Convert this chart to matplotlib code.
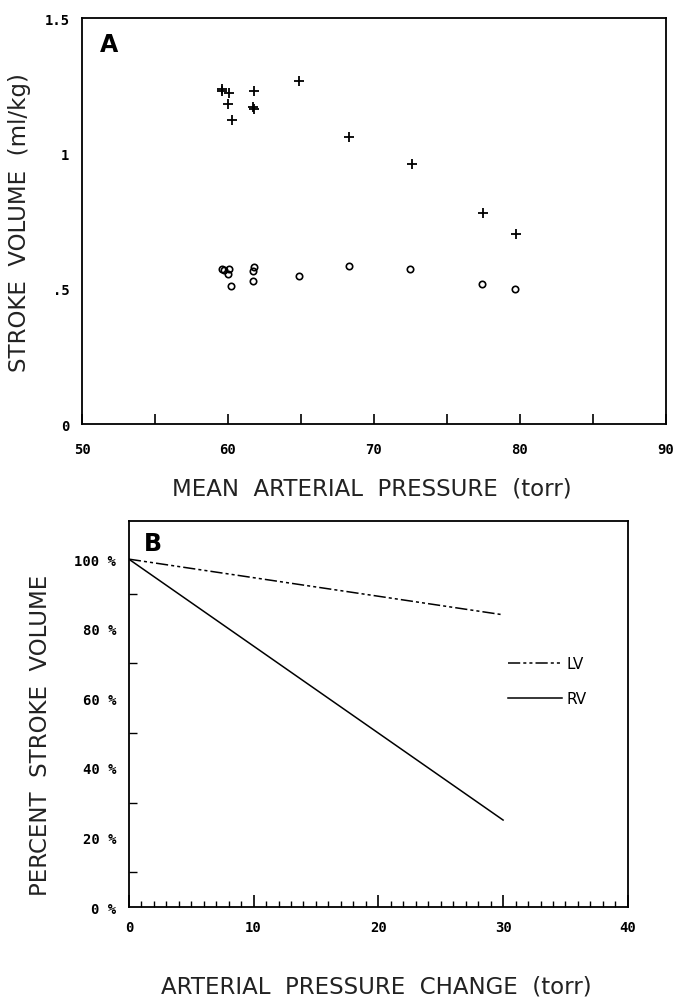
import numpy as np
import matplotlib
matplotlib.use("Agg")
from matplotlib import pyplot as plt
from matplotlib.ticker import MultipleLocator, FixedLocator

# Panel A data: stroke volume vs mean arterial pressure
map_rv = [59.6, 59.6, 60.1, 60.0, 60.25, 61.8, 61.7, 61.8, 64.9, 68.3, 72.6, 77.5, 79.75]
sv_rv = [1.237, 1.229, 1.224, 1.182, 1.123, 1.230, 1.172, 1.166, 1.266, 1.061, 0.960, 0.781, 0.704]
map_lv = [59.6, 59.7, 60.1, 60.0, 60.2, 61.8, 61.7, 61.7, 64.9, 68.3, 72.5, 77.4, 79.7]
sv_lv = [0.573, 0.571, 0.575, 0.554, 0.511, 0.580, 0.565, 0.529, 0.547, 0.585, 0.573, 0.517, 0.501]

# Panel B data: percent stroke volume vs pressure change
dp = [0, 30]
pct_lv = [100, 84]
pct_rv = [100, 25]

a_xticks = [50, 60, 70, 80, 90]
a_xlabels = ["50", "60", "70", "80", "90"]
a_yticks = [0, 0.5, 1.0, 1.5]
a_ylabels = ["0", ".5", "1", "1.5"]
b_xticks = [0, 10, 20, 30, 40]
b_xlabels = ["0", "10", "20", "30", "40"]
b_yticks = [0, 20, 40, 60, 80, 100]
b_ylabels = ["0 %", "20 %", "40 %", "60 %", "80 %", "100 %"]

tick_font = dict(family="DejaVu Sans Mono", size=10, weight="bold")
label_font = dict(family="DejaVu Sans", size=16.5, color="#222222")
lv_style = (0, (8, 2, 2, 2, 2, 2))

fig = plt.figure()
fig.set_size_inches(6.78, 10.03)

# ---- Panel A
ax1 = fig.add_axes([0.121, 0.576, 0.861, 0.405])
ax1.plot(map_rv, sv_rv, linestyle="none", marker="+", markersize=6.5, mew=1.3, color="black")
ax1.plot(map_lv, sv_lv, linestyle="none", marker="o", markersize=4.6, mew=1.2,
         mfc="none", mec="black")
ax1.set_xlim(50, 90)
ax1.set_ylim(0, 1.5)
ax1.set_xticks(a_xticks)
ax1.set_xticklabels(a_xlabels, fontdict=tick_font)
ax1.xaxis.set_minor_locator(MultipleLocator(5))
ax1.set_yticks(a_yticks)
ax1.set_yticklabels(a_ylabels, fontdict=tick_font)
ax1.tick_params(axis="x", which="both", direction="in", length=7, width=1.2, pad=13)
ax1.tick_params(axis="y", length=0, pad=9)
ax1.set_xlabel("MEAN  ARTERIAL  PRESSURE  (torr)", **label_font)
ax1.set_ylabel("STROKE  VOLUME  (ml/kg)", **label_font)
ax1.xaxis.set_label_coords(0.497, -0.128)
ax1.yaxis.set_label_coords(-0.087, 0.5)
ax1.text(1.2 / 40, 0.965, "A", transform=ax1.transAxes, ha="left", va="top",
         fontsize=17, fontweight="bold", family="DejaVu Sans")
for s in ax1.spines.values():
    s.set_linewidth(1.3)

# ---- Panel B
ax2 = fig.add_axes([0.190, 0.0947, 0.736, 0.385])
ax2.plot(dp, pct_lv, color="black", linewidth=1.1, linestyle=lv_style)
ax2.plot(dp, pct_rv, color="black", linewidth=1.1)
ax2.set_xlim(0, 40)
ax2.set_ylim(0, 111)
ax2.set_xticks(b_xticks)
ax2.set_xticklabels(b_xlabels, fontdict=tick_font)
ax2.xaxis.set_minor_locator(MultipleLocator(1))
ax2.set_yticks(b_yticks)
ax2.set_yticklabels(b_ylabels, fontdict=tick_font)
ax2.yaxis.set_minor_locator(FixedLocator([10, 30, 50, 70, 90]))
ax2.tick_params(axis="x", which="major", direction="in", length=9, width=1.2, pad=9)
ax2.tick_params(axis="x", which="minor", direction="in", length=4, width=1.0)
ax2.tick_params(axis="y", which="major", length=0, pad=9)
ax2.tick_params(axis="y", which="minor", direction="in", length=6, width=1.0)
ax2.set_xlabel("ARTERIAL  PRESSURE  CHANGE  (torr)", **label_font)
ax2.set_ylabel("PERCENT  STROKE  VOLUME", **label_font)
ax2.xaxis.set_label_coords(0.495, -0.176)
ax2.yaxis.set_label_coords(-0.154, 0.448)
ax2.text(1.2 / 40, 0.975, "B", transform=ax2.transAxes, ha="left", va="top",
         fontsize=17, fontweight="bold", family="DejaVu Sans")

# legend drawn as short line samples with labels
ax2.plot([30.4, 34.7], [70, 70], color="black", linewidth=1.1, linestyle=lv_style)
ax2.plot([30.4, 34.7], [60, 60], color="black", linewidth=1.1)
ax2.text(35.1, 70, "LV", va="center", ha="left", fontsize=11, family="DejaVu Sans")
ax2.text(35.1, 60, "RV", va="center", ha="left", fontsize=11, family="DejaVu Sans")
for s in ax2.spines.values():
    s.set_linewidth(1.3)

fig.savefig("out.png", dpi=100)
